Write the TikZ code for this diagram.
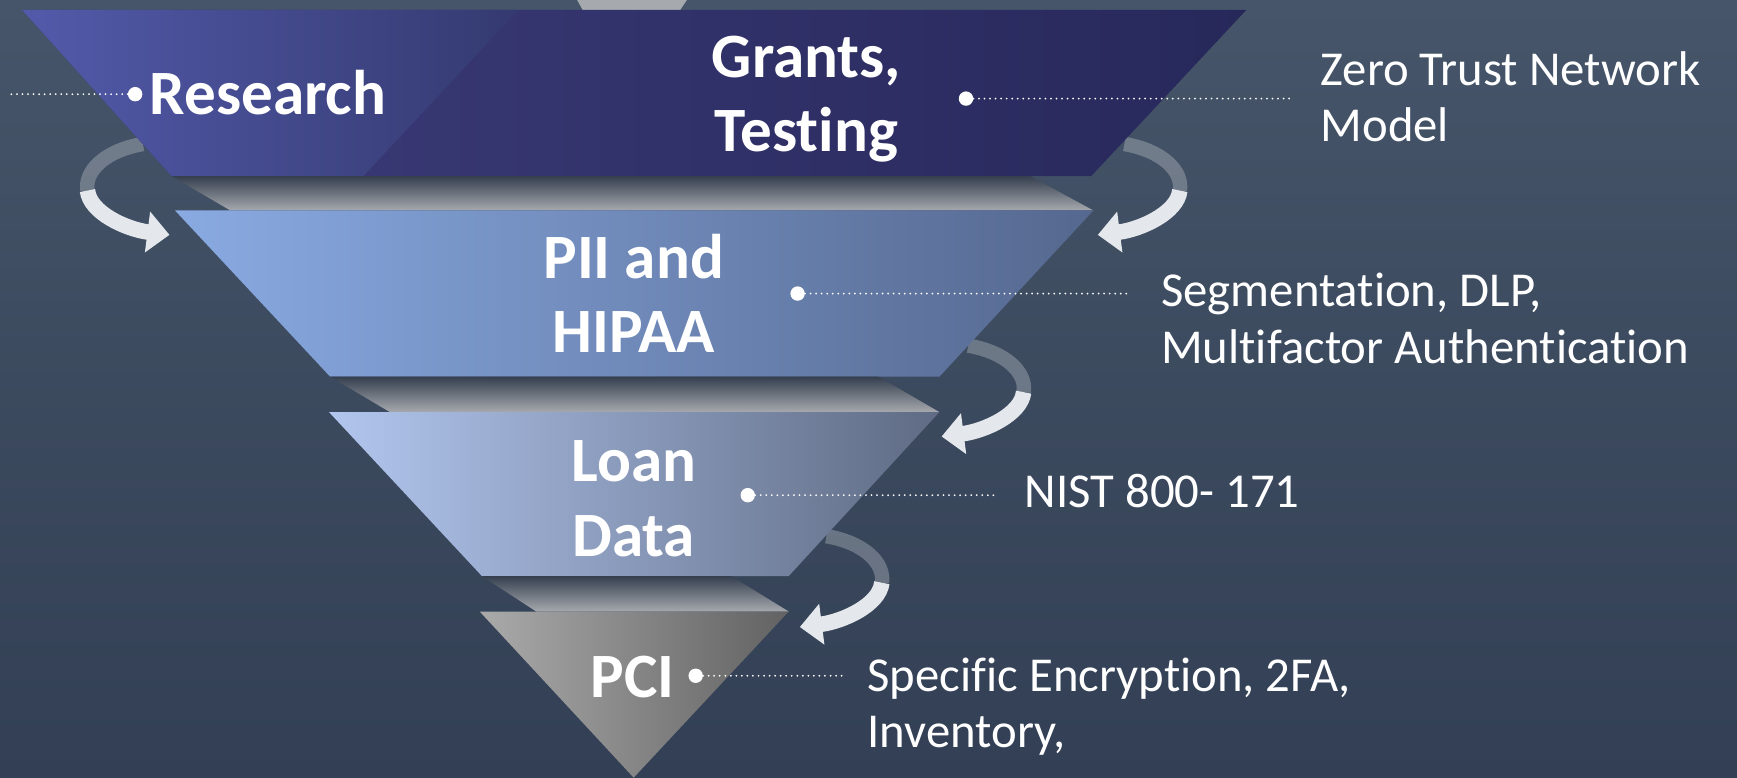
\documentclass[tikz,border=0pt]{standalone}
\usepackage{fontspec}
\setmainfont{Carlito}[Ligatures=NoCommon]
\usetikzlibrary{arrows.meta}

\definecolor{bgtop}{RGB}{70,85,105}
\definecolor{bgbot}{RGB}{50,63,84}
\definecolor{deepA}{RGB}{62,61,125}
\definecolor{deepB}{RGB}{39,40,90}
\definecolor{resA}{RGB}{83,90,170}
\definecolor{resB}{RGB}{52,58,112}
\definecolor{piiA}{RGB}{137,170,226}
\definecolor{piiB}{RGB}{85,104,143}
\definecolor{loanA}{RGB}{178,198,238}
\definecolor{loanB}{RGB}{95,107,132}
\definecolor{pciA}{RGB}{170,170,170}
\definecolor{pciB}{RGB}{98,98,98}
\definecolor{rimtop}{RGB}{53,63,79}
\definecolor{rimbot}{RGB}{166,169,174}
\definecolor{ribbon}{RGB}{228,231,235}

\begin{document}
\begin{tikzpicture}[x=1pt,y=-1pt,
  lbl/.style={text=white,font=\bfseries\fontsize{57}{67}\selectfont,inner sep=0,align=center},
  side/.style={text=white,font=\fontsize{44}{51}\selectfont,inner sep=0,align=left,anchor=base west},
  bullet/.style={circle,fill=white,minimum size=13pt,inner sep=0},
  dotline/.style={white,line width=1.8pt,line cap=round,dash pattern=on 0pt off 5pt},
  rim/.style={top color=rimtop,bottom color=rimbot}]
  \useasboundingbox (0,0) rectangle (1568,702);
  \shade[top color=bgtop,bottom color=bgbot] (0,0) rectangle (1568,702);
  % curled arrows, behind the funnel
  \foreach \tx/\ty/\s in {991/212/1,850/394/1,722/566/1,153/212/-1}{
    \begin{scope}[shift={(\tx,\ty)},xscale=\s]
      \draw[line width=13pt,white,opacity=.25] (24,-82) .. controls (59,-76) and (77,-57) .. (74,-40);
      \draw[line width=14pt,ribbon,-{Triangle[width=36pt,length=20pt]}] (74,-40) .. controls (72,-20) and (39,-5) .. (0,0);
    \end{scope}}
  % funnel
  \fill[rimbot] (521,0) -- (620,0) -- (614,9) -- (526,9) -- cycle;
  \shade[left color=deepA,right color=deepB] (20,9) -- (1125,9) -- (985,159) -- (155,159) -- cycle;
  \shade[left color=resA,right color=resB] (20,9) -- (468,9) -- (328,159) -- (155,159) -- cycle;
  \shade[rim] (155,159) -- (930,159) -- (987,190) -- (208,190) -- cycle;
  \shade[left color=piiA,right color=piiB] (158,190) -- (987,190) -- (848,340) -- (298,340) -- cycle;
  \shade[rim] (298,340) -- (793,340) -- (848,372) -- (352,372) -- cycle;
  \shade[left color=loanA,right color=loanB] (297,372) -- (848,372) -- (712,520) -- (435,520) -- cycle;
  \shade[rim] (435,520) -- (660,520) -- (712,552) -- (484,552) -- cycle;
  \shade[left color=pciA,right color=pciB] (433,552) -- (712,552) -- (572,702) -- cycle;
  % labels
  \node[lbl,anchor=base west] (research) at (135,103) {Research};
  \node[lbl,anchor=base] (grants) at (728,137) {Grants,\\Testing};
  \node[lbl,anchor=base] (pii) at (572,318) {PII and\\HIPAA};
  \node[lbl,anchor=base] (loan) at (572,502) {Loan\\Data};
  \node[lbl,anchor=base] (pci) at (571,630) {PCI};
  \node[side] (zt) at (1192,128) {Zero Trust Network\\Model};
  \node[side] (seg) at (1048,328) {Segmentation, DLP,\\Multifactor Authentication};
  \node[side] (nist) at (925,458) {NIST 800- 171};
  \node[side] (spec) at (783,675) {Specific Encryption, 2FA,\\Inventory,};
  \node[bullet] (bres) at (122,85) {};
  \node[bullet] (bgrants) at (872,89) {};
  \node[bullet] (bpii) at (720,265) {};
  \node[bullet] (bloan) at (675,447) {};
  \node[bullet] (bpci) at (628,610) {};
  \coordinate (rend) at (10,85);
  \draw[dotline] (bres) -- (rend);
  \draw[dotline,shorten >=24pt] (bgrants) -- (bgrants -| zt.west);
  \draw[dotline,shorten >=30pt] (bpii) -- (bpii -| seg.west);
  \draw[dotline,shorten >=25pt] (bloan) -- (bloan -| nist.west);
  \draw[dotline,shorten >=21pt] (bpci) -- (bpci -| spec.west);
\end{tikzpicture}
\end{document}
